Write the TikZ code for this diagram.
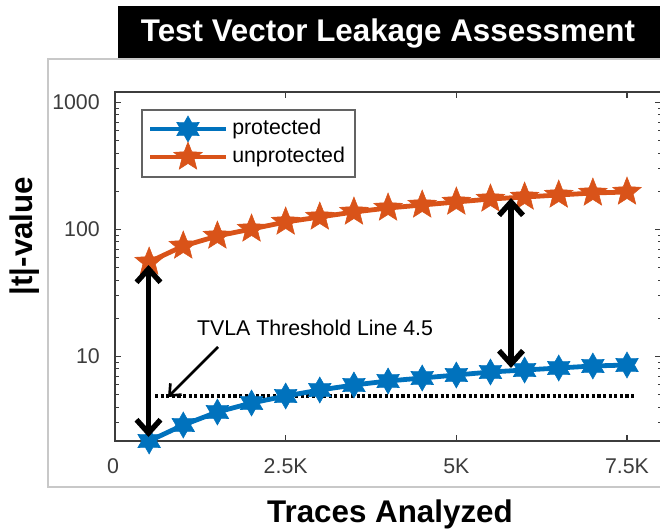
\documentclass[tikz,border=0pt]{standalone}
\usepackage{fontspec}
\setmainfont{Liberation Sans}
\usetikzlibrary{arrows.meta,shapes.geometric}
\definecolor{protblue}{RGB}{0,114,189}
\definecolor{unprotorange}{RGB}{217,83,25}
\definecolor{axisgray}{RGB}{60,60,60}
\definecolor{framegray}{RGB}{200,200,200}

\begin{document}
\begin{tikzpicture}[x=0.75pt,y=0.75pt,yscale=-1,xscale=1,
  axisline/.style={draw=axisgray,line width=0.8pt},
  ticklabel/.style={text=axisgray,inner sep=0pt,font=\fontsize{16}{19}\selectfont},
  biglabel/.style={inner sep=0pt,font=\bfseries\fontsize{23.5}{28}\selectfont},
  hexmark/.style={star,star points=6,star point ratio=1.75,minimum size=19.5pt,inner sep=0pt,fill=protblue,draw=protblue,line width=0.4pt},
  pentmark/.style={star,star points=5,star point ratio=2.3,minimum size=22.5pt,inner sep=0pt,fill=unprotorange,draw=unprotorange,line width=0.4pt},
  protline/.style={draw=protblue,line width=3.6pt,line cap=round,line join=round},
  unprotline/.style={draw=unprotorange,line width=3.6pt,line cap=round,line join=round},
  gaparrow/.style={line width=4pt,{Straight Barb[length=10pt,width=18pt]}-{Straight Barb[length=10pt,width=18pt]}},
  pointer/.style={line width=2pt,-{Straight Barb[length=7pt,width=12pt]}},
  threshold/.style={line width=2.6pt,dash pattern=on 2.4pt off 1.8pt}
]
\path[use as bounding box] (0,0) rectangle (660,531);
\clip (0,0) rectangle (660,531);

%=====Keret es cim=====
\draw[framegray,line width=0.8pt] (670,59) -- (48,59) -- (48,487) -- (670,487);
\fill[black] (118,6) rectangle (660,58);
\node[biglabel,text=white] (title) at (388,33) {Test Vector Leakage Assessment};

%=====Tengelyek=====
\draw[axisline] (115,92) rectangle (661,441);
\foreach \tx in {115,285.67,456.33,627} {
  \draw[axisline] (\tx,441) -- (\tx,435);
  \draw[axisline] (\tx,92) -- (\tx,98);
}
\foreach \ty in {102.5,229.5,356.5} {
  \draw[axisline] (115,\ty) -- (121,\ty);
  \draw[axisline] (661,\ty) -- (655,\ty);
}
\foreach \b/\kmin in {229.5/2,356.5/2,483.5/3}
  \foreach \k in {\kmin,...,9} {
    \pgfmathsetmacro\ty{\b-127*log10(\k)}
    \draw[axisline] (115,\ty) -- (118.5,\ty);
    \draw[axisline] (661,\ty) -- (657.5,\ty);
  }

%=====Kuszob=====
\coordinate (thrL) at (155,396);
\coordinate (thrR) at (635,396);
\draw[threshold] (thrL) -- (thrR);

%=====Adatsorok=====
\foreach \i/\yu/\yp in {1/262/441,2/246/425,3/236/412,4/229/403,5/222/396,6/217/390,7/212/385,8/208/381,9/205/378,10/202/375,11/199/372,12/197/370,13/195/368,14/193/366,15/192/365} {
  \coordinate (u\i) at ({115+34.133*\i},\yu);
  \coordinate (p\i) at ({115+34.133*\i},\yp);
}
\foreach \i [remember=\i as \j (initially 1)] in {2,...,15} {
  \draw[unprotline] (u\j) -- (u\i);
  \draw[protline] (p\j) -- (p\i);
}
\foreach \i in {1,...,15} {
  \node[pentmark] (um\i) at (u\i) {};
  \node[hexmark] (pm\i) at (p\i) {};
}

%=====Jelmagyarazat=====
\draw[draw=axisgray!80,fill=white,line width=0.8pt] (142,110) rectangle (355,177);
\draw[protline,line cap=butt] (150,129) -- (226,129);
\draw[unprotline,line cap=butt] (150,157) -- (226,157);
\node[hexmark] (legp) at (188,129) {};
\node[pentmark] (legu) at (188,157) {};
\node[ticklabel,text=black,anchor=west] (legptext) at (232,129) {protected};
\node[ticklabel,text=black,anchor=west] (legutext) at (232,157) {unprotected};

%=====Nyilak=====
\coordinate (gapLtop) at (148.5,265);
\coordinate (gapLbot) at (148.5,437);
\coordinate (gapRtop) at (511,198);
\coordinate (gapRbot) at (511,368);
\draw[gaparrow] (gapLtop) -- (gapLbot);
\draw[gaparrow] (gapRtop) -- (gapRbot);

%======Feliratok=========
\node[ticklabel,text=black] (tvla) at (315,328) {TVLA Threshold Line 4.5};
\coordinate (tvlatail) at (218,347);
\coordinate (tvlahead) at (168,397);
\draw[pointer] (tvlatail) -- (tvlahead);

\foreach \ty/\lab in {102.5/1000,229.5/100,356.5/10}
  \node[ticklabel,anchor=east] (y\lab) at (100,\ty) {\lab};
\foreach \tx/\lab/\nm in {113/0/x0,285.67/2.5K/x25,456.33/5K/x50,627/7.5K/x75}
  \node[ticklabel] (\nm) at (\tx,466) {\lab};

\node[biglabel,anchor=base] (xtitle) at (390,522) {Traces Analyzed};
\node[biglabel,rotate=90] (ytitle) at (25,236) {|t|-value};

\end{tikzpicture}
\end{document}
